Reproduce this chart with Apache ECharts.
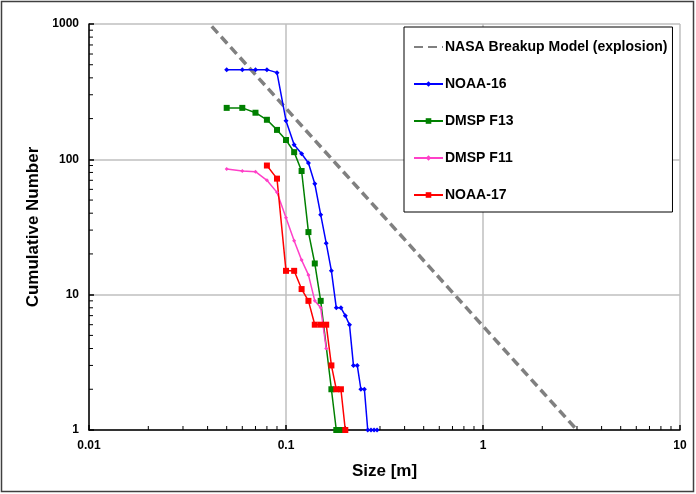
<!DOCTYPE html>
<html>
<head>
<meta charset="utf-8">
<script src="https://cdn.jsdelivr.net/npm/echarts@6/dist/echarts.min.js"></script>
<style>html,body{margin:0;padding:0;background:#fff;}#c{width:696px;height:494px;}</style>
</head>
<body>
<div id="c"></div>
<script>
// ---- data ----
const nasaX = [0.042, 3.0];
const nasaY = [960, 1];

const noaa16X = [0.05,0.06,0.07,0.08,0.09,0.10,0.11,0.12,0.13,0.14,0.15,0.16,0.17,0.18,0.19,0.20,0.21,0.22,0.23,0.24,0.25,0.26,0.27,0.28,0.29];
const noaa16Y = [460,460,460,460,437,193,128,110,94,66,39,24,15,8,8,7,6,3,3,2,2,1,1,1,1];

const f13X = [0.05,0.06,0.07,0.08,0.09,0.10,0.11,0.12,0.13,0.14,0.15,0.17,0.18,0.19];
const f13Y = [240,240,221,196,165,139,113,82,29,17,9,2,1,1];

const f11X = [0.05,0.06,0.07,0.08,0.09,0.10,0.11,0.12,0.13,0.14,0.15,0.16];
const f11Y = [85,82,81,70,57,37,25,18,14,9,8,4];

const noaa17X = [0.08,0.09,0.10,0.11,0.12,0.13,0.14,0.15,0.16,0.17,0.18,0.19,0.20];
const noaa17Y = [90,72,15,15,11,9,6,6,6,3,2,2,1];

const xTickLabels = ['0.01','0.1','1','10'];
const yTickLabels = ['1','10','100','1000'];

const pairs = (xs, ys) => xs.map((x, i) => [x, ys[i]]);
const FONT = 'Liberation Sans, Arial, sans-serif';

const chart = echarts.init(document.getElementById('c'), null, {renderer: 'canvas'});
const option = {
  animation: false,
  backgroundColor: '#fff',
  textStyle: {fontFamily: FONT},
  grid: {left: 89, right: 16, top: 24, bottom: 64, containLabel: false},
  xAxis: {
    type: 'log', logBase: 10, min: 0.01, max: 10,
    name: 'Size [m]', nameLocation: 'middle', nameGap: 33,
    nameTextStyle: {fontFamily: FONT, fontWeight: 'bold', fontSize: 17, color: '#000'},
    axisLine: {show: true, lineStyle: {color: '#000', width: 1.5}},
    axisTick: {show: true, inside: true, length: 5, lineStyle: {color: '#000', width: 1.5}},
    axisLabel: {fontFamily: FONT, fontWeight: 'bold', fontSize: 12, color: '#000', margin: 10,
      formatter: v => { const i = Math.round(Math.log10(v)) + 2; return xTickLabels[i] ?? ''; }},
    splitLine: {show: true, lineStyle: {color: '#BFBFBF', width: 1.5}}
  },
  yAxis: {
    type: 'log', logBase: 10, min: 1, max: 1000,
    name: 'Cumulative Number', nameLocation: 'middle', nameGap: 38, nameRotate: 90,
    nameTextStyle: {fontFamily: FONT, fontWeight: 'bold', fontSize: 17, color: '#000'},
    axisLine: {show: true, lineStyle: {color: '#000', width: 1.5}},
    axisTick: {show: true, inside: true, length: 5, lineStyle: {color: '#000', width: 1.5}},
    axisLabel: {fontFamily: FONT, fontWeight: 'bold', fontSize: 12, color: '#000', margin: 10,
      formatter: v => { const i = Math.round(Math.log10(v)); return yTickLabels[i] ?? ''; }},
    splitLine: {show: true, lineStyle: {color: '#BFBFBF', width: 1.5}}
  },
  legend: {
    orient: 'vertical', left: 404, top: 27,
    backgroundColor: '#fff', borderColor: '#000', borderWidth: 1,
    padding: [13, 5, 10, 9], itemGap: 23, itemWidth: 29, itemHeight: 7,
    textStyle: {fontFamily: FONT, fontWeight: 'bold', fontSize: 14, color: '#000', padding: [0, 0, 0, -3]},
    data: [
      {name: 'NASA Breakup Model (explosion)', itemStyle: {opacity: 0}},
      'NOAA-16', 'DMSP F13', 'DMSP F11', 'NOAA-17'
    ]
  },
  series: [
    {name: 'NASA Breakup Model (explosion)', type: 'line', data: pairs(nasaX, nasaY),
      symbol: 'none', color: '#808080',
      lineStyle: {color: '#808080', width: 3.5, type: [9, 5]}},
    {name: 'NOAA-16', type: 'line', data: pairs(noaa16X, noaa16Y), color: '#0000FF',
      symbol: 'diamond', symbolSize: 5, itemStyle: {color: '#0000FF'},
      lineStyle: {color: '#0000FF', width: 1.5}},
    {name: 'DMSP F13', type: 'line', data: pairs(f13X, f13Y), color: '#008000',
      symbol: 'rect', symbolSize: 6, itemStyle: {color: '#008000'},
      lineStyle: {color: '#008000', width: 1.5}},
    {name: 'DMSP F11', type: 'line', data: pairs(f11X, f11Y), color: '#FF40C8',
      symbol: 'diamond', symbolSize: 4, itemStyle: {color: '#FF40C8'},
      lineStyle: {color: '#FF40C8', width: 1.5}},
    {name: 'NOAA-17', type: 'line', data: pairs(noaa17X, noaa17Y), color: '#FF0000',
      symbol: 'rect', symbolSize: 6, itemStyle: {color: '#FF0000'},
      lineStyle: {color: '#FF0000', width: 1.5}}
  ]
};
chart.setOption(option);

// minor ticks at 2..9 within each decade, positioned via the axis scales
function minorTicks() {
  const els = [];
  const y0 = chart.convertToPixel({yAxisIndex: 0}, 1);
  const x0 = chart.convertToPixel({xAxisIndex: 0}, 0.01);
  for (let d = -2; d < 1; d++) {
    for (let m = 2; m <= 9; m++) {
      const px = chart.convertToPixel({xAxisIndex: 0}, m * Math.pow(10, d));
      els.push({type: 'line', shape: {x1: px, y1: y0, x2: px, y2: y0 - 4}, style: {stroke: '#000', lineWidth: 1}, silent: true});
    }
  }
  for (let d = 0; d < 3; d++) {
    for (let m = 2; m <= 9; m++) {
      const py = chart.convertToPixel({yAxisIndex: 0}, m * Math.pow(10, d));
      els.push({type: 'line', shape: {x1: x0, y1: py, x2: x0 + 4, y2: py}, style: {stroke: '#000', lineWidth: 1}, silent: true});
    }
  }
  els.push({type: 'rect', shape: {x: 1.5, y: 1.5, width: 692, height: 490}, style: {fill: null, stroke: '#404040', lineWidth: 1.5}, silent: true});
  chart.setOption({graphic: els});
}
minorTicks();
</script>
</body>
</html>
